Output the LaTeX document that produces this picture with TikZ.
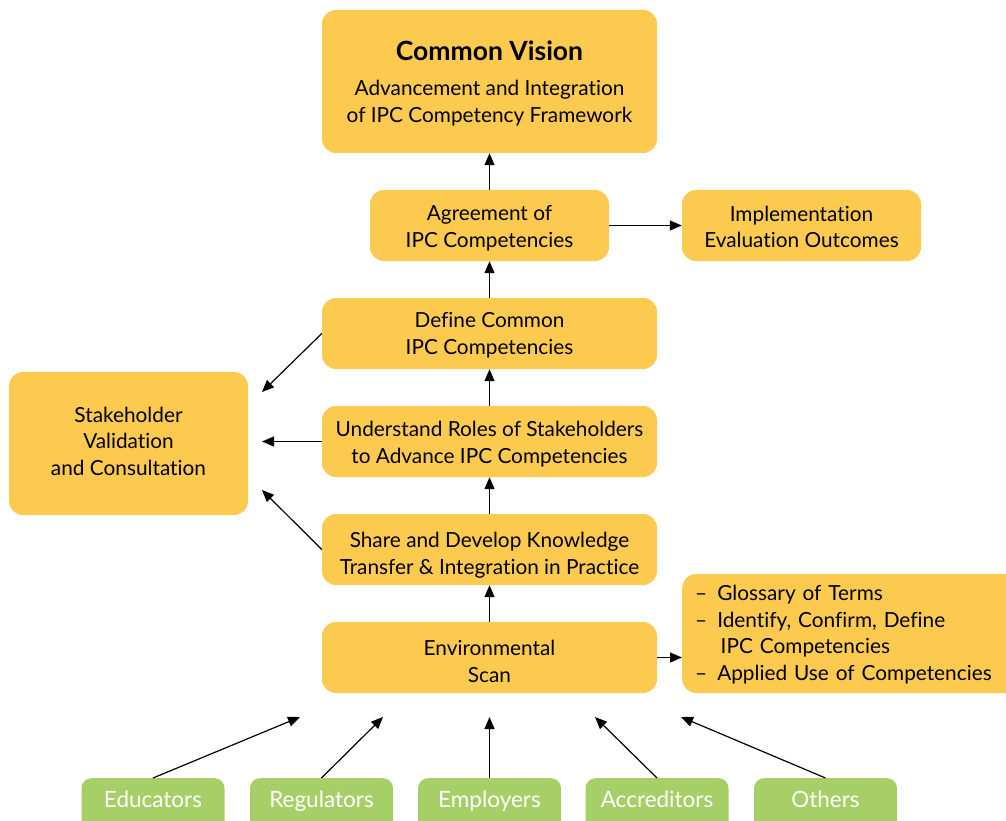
\documentclass[tikz,border=0pt]{standalone}
\usepackage{fontspec}
\setmainfont{Lato}[Ligatures={NoCommon,NoRare}]
\usetikzlibrary{arrows.meta}
\definecolor{boxy}{HTML}{FDCA50}
\definecolor{boxg}{HTML}{A6CF68}
\newcommand{\tl}[2][0pt]{\raisebox{#1}[\height][\depth]{\begin{tabular}{@{}c@{}}#2\end{tabular}}}
\begin{document}
\begin{tikzpicture}[x=1pt,y=-1pt,
  ybox/.style={fill=boxy,rounded corners=14pt,align=center,inner sep=0pt,
    font=\fontsize{20.8}{26.5}\selectfont},
  gbox/.style={fill=boxg,rounded corners=10pt,text=white,inner sep=0pt,
    minimum width=143pt,text height=29pt,text depth=30pt,anchor=north,
    font=\fontsize{22.5}{26}\selectfont},
  arr/.style={line width=1.2pt,-{Triangle[length=12pt,width=10pt]}}]
\clip (0,0) rectangle (1006,821);
\fill[white] (0,0) rectangle (1006,821);

\node[ybox,minimum width=335pt,minimum height=143pt] (vision) at (489.5,81.5)
  {\tl[-4pt]{{\fontsize{26.5}{28}\selectfont\bfseries Common Vision}\\[9pt]
   Advancement and Integration\\of IPC Competency Framework}};
\node[ybox,minimum width=239pt,minimum height=71pt] (agree) at (489.5,225.5)
  {\tl[-3pt]{Agreement of\\IPC Competencies}};
\node[ybox,minimum width=239pt,minimum height=71pt] (impl) at (801.5,225.5)
  {\tl[-3.5pt]{Implementation\\Evaluation Outcomes}};
\node[ybox,minimum width=335pt,minimum height=71pt] (define) at (489.5,333.5)
  {\tl[-2pt]{Define Common\\IPC Competencies}};
\node[ybox,minimum width=335pt,minimum height=71pt] (under) at (489.5,441.5)
  {\tl[-3pt]{Understand Roles of Stakeholders\\to Advance IPC Competencies}};
\node[ybox,minimum width=335pt,minimum height=71pt] (share) at (489.5,549.5)
  {\tl[-6pt]{Share and Develop Knowledge\\Transfer \& Integration in Practice}};
\node[ybox,minimum width=335pt,minimum height=71pt] (scan) at (489.5,657.5)
  {\tl[-6pt]{Environmental\\Scan}};
\node[ybox,minimum width=239pt,minimum height=143pt] (stake) at (128.5,443.5)
  {\tl[0pt]{Stakeholder\\Validation\\and Consultation}};
\node[ybox,anchor=west,inner xsep=13pt,minimum height=119pt,text width=310pt,align=left] (bul) at (682,633.5)
  {\raisebox{-1.5pt}[\height][\depth]{\begin{tabular}{@{}l@{\hspace{10pt}}l@{}}
   \textendash & Glossary of Terms\\
   \textendash & Identify, Confirm, Define\\
      & \,IPC Competencies\\
   \textendash & Applied Use of Competencies
   \end{tabular}}};

\node[gbox] (edu) at (153,778) {Educators};
\node[gbox] (reg) at (321.5,778) {Regulators};
\node[gbox] (emp) at (489.5,778) {Employers};
\node[gbox] (acc) at (657,778) {Accreditors};
\node[gbox] (oth) at (825.5,778) {Others};

\coordinate (s1) at (262,392);
\coordinate (s2) at (262,441.5);
\coordinate (s3) at (262,490);
\coordinate (t1) at (300,717);
\coordinate (t2) at (383,717);
\coordinate (t3) at (489.5,717);
\coordinate (t4) at (595,717);
\coordinate (t5) at (681,717);

\draw[arr] (agree.north) -- (vision.south);
\draw[arr] (define.north) -- (agree.south);
\draw[arr] (under.north) -- (define.south);
\draw[arr] (share.north) -- (under.south);
\draw[arr] (scan.north) -- (share.south);
\draw[arr] (agree.east) -- (impl.west);
\draw[arr] (scan.east) -- (scan.east -| bul.west);
\draw[arr] (define.west) -- (s1);
\draw[arr] (under.west) -- (s2);
\draw[arr] (share.west) -- (s3);
\draw[arr] (edu.north) -- (t1);
\draw[arr] (reg.north) -- (t2);
\draw[arr] (emp.north) -- (t3);
\draw[arr] (acc.north) -- (t4);
\draw[arr] (oth.north) -- (t5);
\end{tikzpicture}
\end{document}
